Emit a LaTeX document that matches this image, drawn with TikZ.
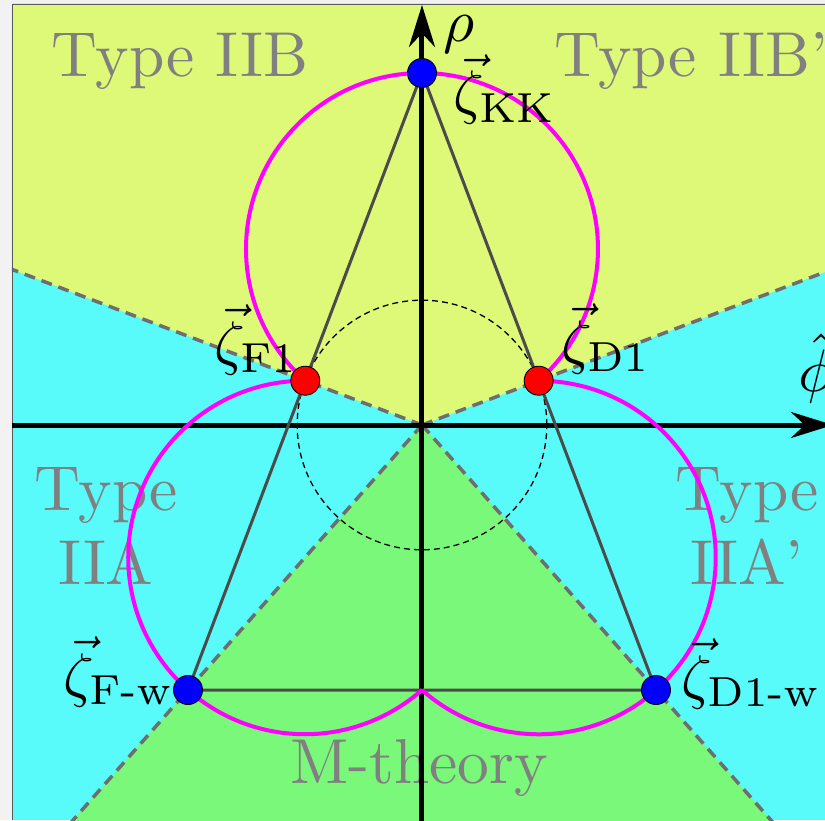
\documentclass[tikz,border=0pt]{standalone}
\usepackage{amsmath}
\usetikzlibrary{calc,arrows.meta}
\definecolor{bggray}{RGB}{242,242,242}
\definecolor{yellowreg}{RGB}{222,248,120}
\definecolor{cyanreg}{RGB}{88,250,250}
\definecolor{greenreg}{RGB}{122,248,122}
\definecolor{textgray}{RGB}{128,128,128}
\definecolor{bndgray}{RGB}{110,110,110}
\definecolor{trigray}{RGB}{75,75,75}
\definecolor{pinkarc}{RGB}{255,0,255}
\tikzset{
  lab/.style={inner sep=0pt, anchor=base west, scale=6, font=\fontsize{10}{12}\selectfont},
  reg/.style={inner sep=0pt, text=textgray, align=center, scale=6.35, font=\fontsize{10}{11.8}\selectfont},
  bnd/.style={bndgray, line width=3.5pt, dash pattern=on 11pt off 7pt},
  axis/.style={line width=5pt, -{Stealth[length=42pt,width=26pt]}},
  tri/.style={trigray, line width=3pt},
  parc/.style={pinkarc, line width=4pt},
  dot/.style={circle, draw=black, line width=0.9pt, minimum size=29pt, inner sep=0pt}
}
\begin{document}
\begin{tikzpicture}[x=1pt,y=1pt]
\useasboundingbox (-422,-395) rectangle (403,425);
\fill[bggray] (-422,-395) rectangle (403,425);
\coordinate (O) at (0,0);
\coordinate (KK) at (0,352);
\coordinate (Fw) at (-234,-265);
\coordinate (Dw) at (234,-265);
\coordinate (F1) at ($(KK)!(O)!(Fw)$);
\coordinate (D1) at ($(KK)!(O)!(Dw)$);
\coordinate (B) at (0,-265);
\begin{scope}
\clip (-410,-395) rectangle (403,421);
\fill[cyanreg] (-410,-395) rectangle (403,421);
\fill[yellowreg] (O) -- ($(O)!8!(F1)$) -- (-1000,1000) -- (1000,1000) -- ($(O)!8!(D1)$) -- cycle;
\fill[greenreg] (O) -- ($(O)!4!(Fw)$) -- ($(O)!4!(Dw)$) -- cycle;
\node[reg, anchor=base] (tIIB) at (-242,348) {Type IIB};
\node[reg, anchor=base west] (tIIBp) at (131,348) {Type IIB'};
\node[reg] (tIIA) at (-316,-101) {Type\\IIA};
\node[reg] (tIIAp) at (325,-101) {Type\\IIA'};
\node[reg, anchor=base] (tM) at (-3,-358) {M-theory};
\draw[bnd] (O) -- ($(O)!8!(F1)$);
\draw[bnd] (O) -- ($(O)!8!(D1)$);
\draw[bnd] (O) -- ($(O)!4!(Fw)$);
\draw[bnd] (O) -- ($(O)!4!(Dw)$);
\end{scope}
\draw[black!65, line width=0.8pt] (-410,-395) -- (-410,421) -- (403,421);
\draw[black, line width=1.3pt, dash pattern=on 6pt off 4pt] (O) circle[radius=124.8];
\coordinate (xL) at (-410,0);
\coordinate (xR) at (411,0);
\coordinate (yB) at (0,-400);
\coordinate (yT) at (0,420);
\draw[axis] (xL) -- (xR);
\draw[axis] (yB) -- (yT);
\draw[tri] (KK) -- (Fw) -- (Dw) -- cycle;
\draw[parc] (D1) arc[start angle=-48.46, end angle=228.46, radius=176];
\draw[parc] (F1) arc[start angle=89.9, end angle=311.45, radius=176.76];
\draw[parc] (B) arc[start angle=228.55, end angle=450.1, radius=176.76];
\node[dot, fill=blue] (pKK) at (KK) {};
\node[dot, fill=red] (pF1) at (F1) {};
\node[dot, fill=red] (pD1) at (D1) {};
\node[dot, fill=blue] (pFw) at (Fw) {};
\node[dot, fill=blue] (pDw) at (Dw) {};
\node[lab] (lKK) at (30,312) {$\vec\zeta_{\mathrm{KK}}$};
\node[lab] (lF1) at (-209,62) {$\vec\zeta_{\mathrm{F1}}$};
\node[lab] (lD1) at (138,63) {$\vec\zeta_{\mathrm{D1}}$};
\node[lab] (lFw) at (-360,-270) {$\vec\zeta_{\mathrm{F\text{-}w}}$};
\node[lab] (lDw) at (258,-272) {$\vec\zeta_{\mathrm{D1\text{-}w}}$};
\node[lab] (lrho) at (20,383) {$\rho$};
\node[lab] (lphi) at (375,34) {$\hat\phi$};
\end{tikzpicture}
\end{document}
